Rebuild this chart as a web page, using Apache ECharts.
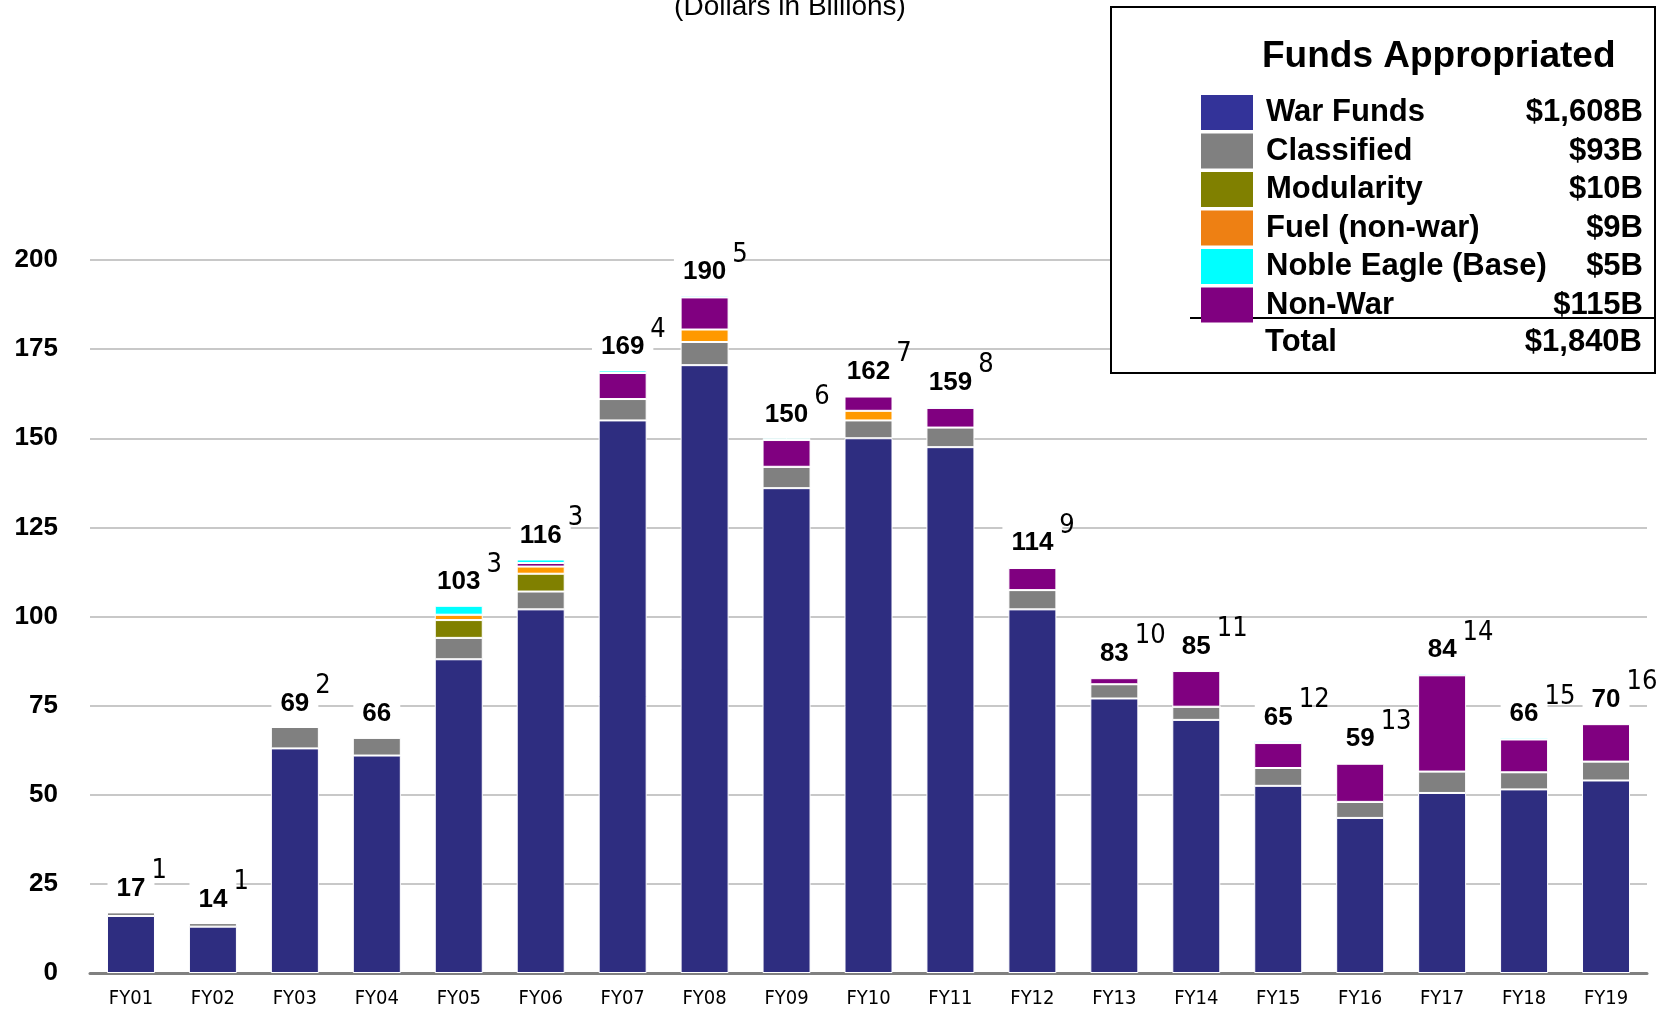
<!DOCTYPE html>
<html>
<head>
<meta charset="utf-8">
<script src="https://cdn.jsdelivr.net/npm/echarts@6/dist/echarts.min.js"></script>
<style>
html,body{margin:0;padding:0;background:#fff;}
#chart{width:1666px;height:1011px;}
</style>
</head>
<body>
<div id="chart"></div>
<script>
// ---------- DATA ----------
const categories = ['FY01','FY02','FY03','FY04','FY05','FY06','FY07','FY08','FY09','FY10','FY11','FY12','FY13','FY14','FY15','FY16','FY17','FY18','FY19'];
const warFunds   = [16, 13, 63, 61, 88, 102, 155, 170.5, 136, 150, 147.5, 102, 77, 71, 52.5, 43.5, 50.5, 51.5, 54];
const classified = [1, 1, 6, 5, 6, 5, 6, 6.5, 6, 5, 5.5, 5.4, 4, 3.7, 5, 4.5, 6, 4.8, 5.3];
const modularity = [0, 0, 0, 0, 5, 5, 0, 0, 0, 0, 0, 0, 0, 0, 0, 0, 0, 0, 0];
const fuel       = [0, 0, 0, 0, 1.5, 2, 0, 3.5, 0, 2.7, 0, 0, 0, 0, 0, 0, 0, 0, 0];
const nonWar     = [0, 0, 0, 0, 0, 1, 7.3, 9, 7.5, 4, 5.5, 6.2, 1.7, 10, 7, 10.7, 27, 9.2, 10.5];
const nobleEagle = [0, 0, 0, 0, 2.5, 1, 0.7, 0.5, 0.5, 0.3, 0.5, 0.4, 0.3, 0.3, 0.5, 0.3, 0.5, 0.5, 0.2];
const totalLabels = [17, 14, 69, 66, 103, 116, 169, 190, 150, 162, 159, 114, 83, 85, 65, 59, 84, 66, 70];
const footnotes   = ['1','1','2','','3','3','4','5','6','7','8','9','10','11','12','13','14','15','16'];
const legendNames  = ['War Funds','Classified','Modularity','Fuel (non-war)','Noble Eagle (Base)','Non-War'];
const legendTotals = ['$1,608B','$93B','$10B','$9B','$5B','$115B'];
const grandTotal   = '$1,840B';
const yMin = 0, yMax = 200, yStep = 25;

// ---------- STYLE ----------
const F = "'Liberation Sans', Arial, Helvetica, sans-serif";
const FN = "'Liberation Sans Narrow', 'Arial Narrow', 'DejaVu Sans Condensed', sans-serif";
const colors = {
  war: '#2E2D80', classified: '#808080', modularity: '#808000',
  fuel: '#FF9900', nobleEagle: '#00FFFF', nonWar: '#800080'
};
const legendSwatch = ['#333399','#808080','#808000','#EE8013','#00FFFF','#800080'];

const stackTops = categories.map((_, i) =>
  warFunds[i] + classified[i] + modularity[i] + fuel[i] + nonWar[i] + nobleEagle[i]);

const cv = document.createElement('canvas').getContext('2d');
function tw(text, font) { cv.font = font; return cv.measureText(text).width; }

const chart = echarts.init(document.getElementById('chart'), null, {renderer: 'canvas'});

function barSeries(name, data, color) {
  return {
    name, type: 'bar', stack: 'total', data, barWidth: 48,
    itemStyle: { color, borderColor: '#ffffff', borderWidth: 1 },
    emphasis: { disabled: true }
  };
}

const option = {
  animation: false,
  backgroundColor: '#ffffff',
  grid: { left: 90, right: 19, top: 260, bottom: 38 },
  xAxis: {
    type: 'category', data: categories,
    axisLine: { lineStyle: { color: '#808080', width: 3 } },
    axisTick: { show: false },
    axisLabel: { fontFamily: FN, fontSize: 20, color: '#000', margin: 16 }
  },
  yAxis: {
    type: 'value', min: yMin, max: yMax, interval: yStep,
    axisLine: { show: false }, axisTick: { show: false },
    axisLabel: { fontFamily: F, fontSize: 26, fontWeight: 'bold', color: '#000', margin: 32 },
    splitLine: { lineStyle: { color: '#c8c8c8', width: 2 } }
  },
  legend: {
    orient: 'vertical', left: 1196, top: 90,
    itemWidth: 52, itemHeight: 35, itemGap: 3.5,
    icon: 'rect', selectedMode: false, z: 20,
    data: legendNames.map((n, i) => ({ name: n, itemStyle: { color: legendSwatch[i], borderWidth: 0 } })),
    formatter: name => '{n|' + name + '}{v|' + legendTotals[legendNames.indexOf(name)] + '}',
    textStyle: {
      rich: {
        n: { width: 242, padding: [0, 0, 0, 8], fontFamily: F, fontSize: 31, fontWeight: 'bold', color: '#000' },
        v: { width: 135, align: 'right', fontFamily: F, fontSize: 31, fontWeight: 'bold', color: '#000' }
      }
    }
  },
  graphic: [
    {
      type: 'text', z: 20, x: 790, y: 7,
      style: { text: '(Dollars in Billions)', font: '28px ' + F, fill: '#000', align: 'center', verticalAlign: 'middle' }
    },
    {
      type: 'rect', z: 10,
      shape: { x: 1111, y: 7, width: 544, height: 366 },
      style: { fill: '#ffffff', stroke: '#000000', lineWidth: 2 }
    },
    {
      type: 'text', z: 20, x: 1262, y: 57,
      style: { text: 'Funds Appropriated', font: 'bold 37px ' + F, fill: '#000', align: 'left', verticalAlign: 'middle' }
    },
    {
      type: 'line', z: 20,
      shape: { x1: 1190, y1: 318, x2: 1655, y2: 318 },
      style: { stroke: '#000', lineWidth: 2 }
    },
    {
      type: 'text', z: 20, x: 1265, y: 342,
      style: { text: 'Total', font: 'bold 31px ' + F, fill: '#000', align: 'left', verticalAlign: 'middle' }
    },
    {
      type: 'text', z: 20, x: 1642, y: 342,
      style: { text: grandTotal, font: 'bold 31px ' + F, fill: '#000', align: 'right', verticalAlign: 'middle' }
    }
  ],
  series: [
    barSeries('War Funds', warFunds, colors.war),
    barSeries('Classified', classified, colors.classified),
    barSeries('Modularity', modularity, colors.modularity),
    barSeries('Fuel (non-war)', fuel, colors.fuel),
    barSeries('Non-War', nonWar, colors.nonWar),
    barSeries('Noble Eagle (Base)', nobleEagle, colors.nobleEagle),
    {
      name: 'totals', type: 'scatter', data: stackTops, symbolSize: 1, z: 1,
      itemStyle: { color: '#ffffff', opacity: 1 }, emphasis: { disabled: true }, silent: true,
      label: {
        show: true, position: 'top', distance: 4,
        formatter: p => String(totalLabels[p.dataIndex]),
        fontFamily: F, fontSize: 26, fontWeight: 'bold', color: '#000000', opacity: 1,
        textBorderWidth: 0, textBorderColor: 'transparent',
        backgroundColor: '#ffffff', padding: [9, 9, 6, 9]
      }
    },
    {
      name: 'footnotes', type: 'scatter', symbolSize: 1, z: 1,
      itemStyle: { color: '#ffffff', opacity: 1 }, emphasis: { disabled: true }, silent: true,
      data: stackTops.map((v, i) => {
        const dx = tw(String(totalLabels[i]), 'bold 26px ' + F) / 2 + 6 + tw(footnotes[i], '27px ' + FN) / 2;
        return { value: v, label: { offset: [dx, 0] } };
      }),
      label: {
        show: true, position: 'top', distance: 27,
        formatter: p => footnotes[p.dataIndex],
        fontFamily: FN, fontSize: 27, color: '#000000', opacity: 1,
        textBorderWidth: 0, textBorderColor: 'transparent'
      }
    }
  ]
};
chart.setOption(option);
</script>
</body>
</html>
